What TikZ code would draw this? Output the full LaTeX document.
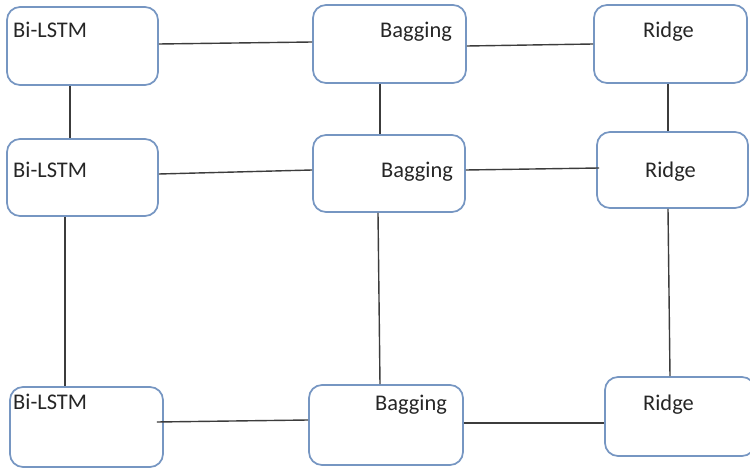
\documentclass[tikz,border=0pt]{standalone}
\usepackage{fontspec}
\setmainfont{Carlito}
\definecolor{boxblue}{RGB}{118,150,194}
\definecolor{linegray}{RGB}{60,60,60}
\definecolor{txtgray}{RGB}{38,38,38}
\begin{document}
\begin{tikzpicture}[x=1pt,y=-1pt,
  box/.style={draw=boxblue,line width=1.7pt,rounded corners=13pt,fill=white,inner sep=0pt},
  lbl/.style={anchor=base west,inner sep=0pt,text=txtgray,font=\fontsize{22.4}{26}\selectfont},
  conn/.style={draw=linegray,line width=1.4pt}]
\useasboundingbox (0,0) rectangle (750,470);
\fill[white] (0,0) rectangle (750,470);
% boxes
\node[box,minimum width=151pt,minimum height=78pt] (b1) at (82.5,46) {};
\node[box,minimum width=153pt,minimum height=78pt] (g1) at (389.5,44) {};
\node[box,minimum width=153pt,minimum height=78pt] (r1) at (670.5,44) {};
\node[box,minimum width=151pt,minimum height=77pt] (b2) at (82.5,177.5) {};
\node[box,minimum width=152pt,minimum height=77pt] (g2) at (389,173.5) {};
\node[box,minimum width=151pt,minimum height=76pt] (r2) at (672.5,170) {};
\node[box,minimum width=153pt,minimum height=80pt] (b3) at (86.5,427) {};
\node[box,minimum width=154pt,minimum height=80pt] (g3) at (386,425) {};
\node[box,minimum width=150pt,minimum height=79pt] (r3) at (680,416.5) {};
% labels
\node[lbl] (tb1) at (13,38) {Bi-LSTM};
\node[lbl] (tg1) at (380,38) {Bagging};
\node[lbl] (tr1) at (643,38) {Ridge};
\node[lbl] (tb2) at (13,178) {Bi-LSTM};
\node[lbl] (tg2) at (381,178) {Bagging};
\node[lbl] (tr2) at (645,178) {Ridge};
\node[lbl] (tb3) at (13,409.5) {Bi-LSTM};
\node[lbl] (tg3) at (375,410) {Bagging};
\node[lbl] (tr3) at (643,410) {Ridge};
% connectors
\draw[conn] ([yshift=2pt]b1.east) -- ([yshift=2pt]g1.west);
\draw[conn] ([yshift=-2pt]g1.east) -- (r1.west);
\draw[conn] ([xshift=-12.5pt]b1.south) -- ([xshift=-12.5pt]b2.north);
\draw[conn] ([xshift=-9.5pt]g1.south) -- ([xshift=-9pt]g2.north);
\draw[conn] ([xshift=-2.5pt]r1.south) -- ([xshift=-4.5pt]r2.north);
\draw[conn] ([yshift=3.5pt]b2.east) -- ([yshift=3.5pt]g2.west);
\draw[conn] ([yshift=3.5pt]g2.east) -- ([xshift=3pt,yshift=2pt]r2.west);
\draw[conn] ([xshift=-17.5pt]b2.south) -- ([xshift=-21.5pt]b3.north);
\draw[conn] ([xshift=-11pt]g2.south) -- ([xshift=-6pt]g3.north);
\draw[conn] ([xshift=-4.5pt]r2.south) -- ([xshift=-10pt]r3.north);
\draw[conn] ([xshift=-7pt,yshift=5pt]b3.east) -- ([yshift=5pt]g3.west);
\draw[conn] ([yshift=2pt]g3.east) -- ([yshift=-6.5pt]r3.west);
\end{tikzpicture}
\end{document}
